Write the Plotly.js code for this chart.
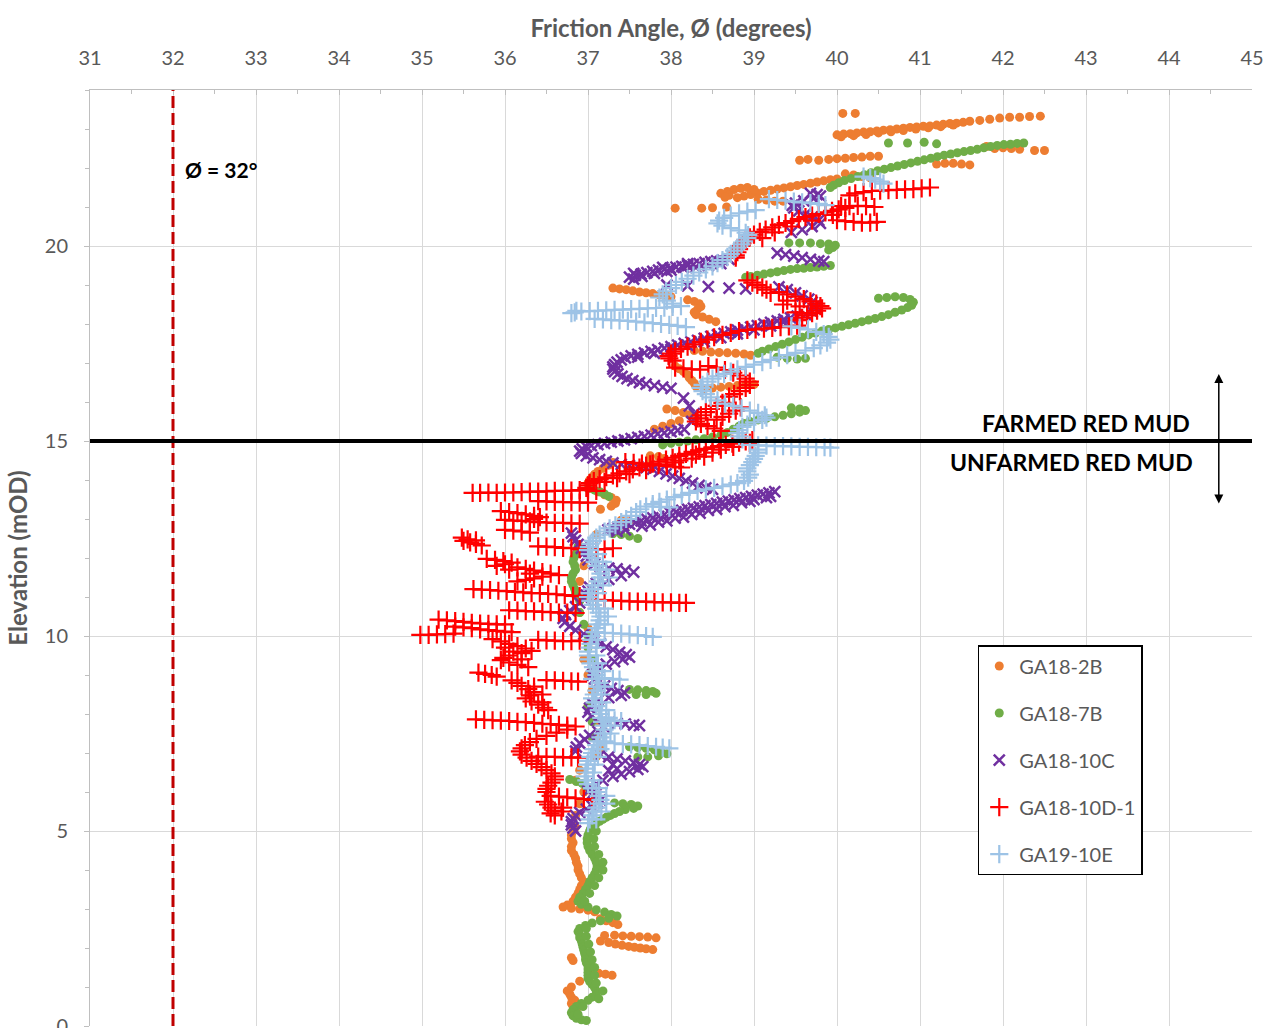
<!DOCTYPE html>
<html>
<head>
<meta charset="utf-8">
<script src="https://cdn.plot.ly/plotly-3.0.1.min.js"></script>
<style>html,body{margin:0;padding:0;background:#fff;}#chart{width:1264px;height:1028px;}</style>
</head>
<body>
<div id="chart"></div>
<script>
const seriesNames = ["GA18-2B", "GA18-7B", "GA18-10C", "GA18-10D-1", "GA19-10E"];

// Each point: [elevation (mOD), friction angle (degrees)]
const GA18_2B = [
[23.4,40.07],[23.4,40.22],
[22.85,40.0],[22.87,40.08],[22.88,40.16],[22.9,40.24],[22.92,40.32],[22.93,40.4],[22.95,40.48],[22.97,40.56],[22.98,40.64],[23.0,40.72],[23.02,40.8],[23.04,40.88],[23.05,40.96],[23.07,41.04],[23.08,41.12],[23.1,41.2],[23.12,41.28],[23.14,41.36],[23.15,41.44],[23.17,41.52],[23.2,41.6],[23.22,41.72],[23.25,41.84],[23.28,41.96],[23.3,42.08],[23.3,42.2],[23.32,42.32],[23.33,42.45],
[22.8,40.05],[22.83,40.2],[22.86,40.35],[22.9,40.5],[22.93,40.65],[22.96,40.8],[23.0,40.95],[23.03,41.1],[23.06,41.25],[23.1,41.4],
[22.45,42.38],[22.45,42.5],[22.5,41.9],[22.52,42.0],[22.5,42.1],[22.48,42.2],[22.55,41.8],
[22.2,39.55],[22.22,39.65],[22.2,39.78],[22.22,39.9],[22.24,40.0],[22.25,40.1],[22.27,40.2],[22.28,40.3],[22.3,40.4],[22.3,40.5],[22.1,41.2],[22.12,41.3],[22.12,41.4],[22.1,41.5],[22.08,41.6],
[21.85,40.1],[21.82,40.2],[21.78,40.3],[21.75,40.4],
[21.72,40.0],[21.7,39.92],[21.67,39.84],[21.64,39.76],[21.61,39.68],[21.58,39.6],[21.55,39.52],[21.52,39.44],[21.49,39.36],[21.46,39.28],[21.43,39.2],[21.4,39.12],[21.36,39.04],[21.32,38.96],[21.28,38.88],[21.24,38.8],
[21.35,38.6],[21.4,38.68],[21.45,38.76],[21.48,38.84],[21.5,38.92],[21.45,39.0],[21.2,39.05],[21.18,39.15],[21.15,39.25],[21.15,39.35],[21.3,38.7],[21.25,38.65],
[20.97,38.05],[20.97,38.37],[20.98,38.5],[21.0,38.67],
[18.92,37.3],[18.9,37.38],[18.88,37.46],[18.85,37.54],[18.82,37.62],[18.8,37.7],[18.78,37.78],[18.75,37.86],[18.72,37.94],[18.7,38.0],
[18.62,38.2],[18.58,38.28],[18.52,38.34],[18.45,38.36],[18.38,38.32],[18.3,38.28],[18.24,38.3],[18.18,38.38],[18.12,38.46],[18.06,38.54],
[17.32,38.28],[17.3,38.38],[17.28,38.48],[17.27,38.58],[17.26,38.68],[17.25,38.78],[17.23,38.88],[17.2,38.96],
[16.92,38.05],[16.85,38.1],[16.78,38.15],[16.7,38.2],[16.62,38.22],[16.55,38.25],[16.48,38.28],[16.4,38.3],[16.33,38.4],[16.36,38.5],[16.38,38.6],[16.4,38.7],[16.42,38.8],[16.44,38.9],[16.45,39.0],
[15.82,37.95],[15.78,38.05],[15.73,38.15],[15.67,38.22],[15.6,38.3],[15.52,38.1],[15.45,38.0],[15.38,37.9],[15.3,37.8],
[14.62,37.75],[14.6,37.85],[14.55,37.92],[14.5,37.75],
[14.45,37.3],[14.38,37.25],[14.3,37.18],[14.22,37.12],[14.15,37.08],[14.08,37.05],[14.0,37.02],[13.92,37.0],[13.85,37.02],[13.78,37.05],[13.7,37.12],[13.62,37.2],[13.55,37.28],[13.48,37.34],[13.4,37.33],[13.33,37.28],[13.25,37.15],
[12.97,37.4],[12.93,37.48],[12.88,37.5],[12.82,37.45],
[12.6,37.1],[12.3,36.9],[12.1,36.85],[11.8,36.95],[11.4,36.9],[11.0,36.95],[10.6,36.9],[10.2,37.0],[9.8,37.0],[9.4,36.95],[9.0,37.0],[8.6,37.05],[8.2,37.0],[7.8,37.1],[7.4,37.1],[7.1,37.15],[6.9,37.1],[6.56,36.9],[6.3,36.85],[6.0,36.95],[5.7,36.9],[5.4,36.85],[5.1,36.85],
[5.0,36.82],[4.9,36.8],[4.8,36.8],[4.7,36.82],[4.6,36.8],[4.5,36.8],[4.4,36.83],[4.3,36.85],[4.2,36.86],[4.1,36.88],[4.0,36.88],[3.9,36.9],[3.8,36.92],[3.7,36.95],[3.6,36.92],[3.5,36.9],[3.4,36.88],[3.3,36.85],[3.2,36.82],[3.1,36.75],[3.05,36.7],[3.02,36.8],[3.0,36.9],[2.97,37.0],[2.93,37.08],[2.75,37.15],[2.7,37.22],[2.65,37.3],[2.6,37.36],
[2.32,37.2],[2.33,37.32],[2.31,37.42],[2.3,37.52],[2.29,37.62],[2.28,37.72],[2.26,37.82],
[2.18,37.15],[2.14,37.25],[2.1,37.33],[2.07,37.41],[2.04,37.49],[2.02,37.56],[2.0,37.63],[1.98,37.7],[1.96,37.78],
[1.75,36.8],[1.68,36.82],[1.38,37.05],[1.35,37.13],[1.33,37.21],[1.3,37.29],[1.15,36.9],[1.0,36.8],[0.9,36.75],[0.82,36.78],[0.74,36.8],[0.66,36.84],[0.58,36.8],[0.5,36.82],[0.42,36.86]
];

const GA18_7B = [
[22.64,40.62],[22.64,40.85],[22.66,41.05],[22.62,41.2],
[22.64,42.25],[22.63,42.17],[22.61,42.09],[22.6,42.01],[22.58,41.93],[22.55,41.85],[22.52,41.77],[22.48,41.69],[22.45,41.61],[22.42,41.53],[22.39,41.45],[22.36,41.37],[22.33,41.29],[22.29,41.21],[22.25,41.13],[22.21,41.05],[22.17,40.97],[22.13,40.89],[22.09,40.81],[22.05,40.73],[22.01,40.65],[21.97,40.57],[21.93,40.49],[21.88,40.41],[21.83,40.33],[21.78,40.25],[21.73,40.17],[21.68,40.09],[21.62,40.02],[21.56,39.96],[21.5,39.92],
[20.08,39.42],[20.08,39.55],[20.08,39.68],[20.06,39.8],[20.05,39.9],[20.02,39.98],[19.96,39.95],[19.9,39.9],
[19.5,39.92],[19.48,39.84],[19.46,39.76],[19.45,39.68],[19.43,39.6],[19.42,39.52],[19.4,39.44],[19.37,39.36],[19.34,39.28],[19.31,39.2],[19.28,39.12],[19.25,39.04],[19.22,38.96],[19.2,38.9],
[18.66,40.5],[18.68,40.6],[18.7,40.7],[18.68,40.8],[18.63,40.88],[18.56,40.92],[18.48,40.9],[18.42,40.85],[18.36,40.78],[18.3,40.7],[18.24,40.62],[18.19,40.54],[18.14,40.46],[18.1,40.38],[18.06,40.3],[18.02,40.22],[17.98,40.14],[17.94,40.06],[17.9,39.98],[17.86,39.9],[17.82,39.82],[17.77,39.74],[17.72,39.66],[17.66,39.58],[17.6,39.5],[17.54,39.42],[17.48,39.34],[17.42,39.26],[17.36,39.18],[17.3,39.1],[17.25,39.05],
[17.15,39.28],[17.12,39.4],[17.1,39.52],[17.12,39.62],
[15.85,39.45],[15.82,39.55],[15.78,39.62],[15.74,39.55],[15.7,39.45],[15.66,39.35],[15.62,39.25],[15.58,39.15],[15.54,39.05],[15.5,38.95],[15.45,38.88],[15.38,38.82],[15.3,38.75],[15.22,38.68],[15.15,38.6],[15.1,38.5],[15.06,38.4],[15.03,38.3],[15.0,38.2],[14.97,38.1],[14.94,38.0],[14.9,37.9],
[13.78,37.0],[13.74,37.08],[13.69,37.15],[13.64,37.2],[13.58,37.25],
[12.62,37.3],[12.6,37.4],[12.56,37.5],[12.5,37.6],
[12.3,36.88],[12.2,36.9],[12.1,36.86],[12.0,36.83],[11.9,36.82],[11.8,36.84],[11.7,36.85],[11.6,36.82],[11.5,36.8],[11.4,36.8],[11.3,36.82],[11.2,36.84],[11.1,36.85],[11.0,36.88],[10.9,36.9],[10.6,36.9],[10.3,36.95],[10.0,37.0],[9.7,37.0],[9.4,37.05],[9.1,37.05],
[8.63,37.5],[8.62,37.6],[8.6,37.7],[8.58,37.78],[8.53,37.82],[8.5,37.7],[8.5,37.58],
[8.2,37.0],[7.8,37.05],[7.4,37.05],
[7.16,37.5],[7.14,37.6],[7.12,37.7],[7.08,37.8],[7.03,37.88],[6.98,37.95],[6.93,37.85],[6.9,37.72],[6.9,37.6],
[6.32,36.78],[6.27,36.86],[6.22,36.93],[6.15,36.98],
[5.72,37.32],[5.7,37.42],[5.68,37.52],[5.64,37.6],[5.58,37.55],[5.55,37.45],
[5.5,37.38],[5.45,37.32],[5.4,37.27],[5.35,37.22],[5.3,37.18],[5.25,37.14],[5.2,37.1],[5.15,37.07],[5.1,37.05],[5.05,37.03],[5.0,37.02],[4.9,37.0],[4.8,36.99],[4.7,36.99],[4.6,37.0],[4.5,37.02],[4.4,37.05],[4.3,37.08],[4.2,37.1],[4.1,37.11],[4.0,37.1],[3.9,37.08],[3.8,37.05],[3.7,37.02],[3.6,37.0],[3.5,36.97],[3.4,36.94],[3.3,36.9],[3.2,36.88],[3.12,36.92],[3.05,37.0],[2.98,37.1],[2.92,37.2],[2.86,37.28],[2.82,37.35],[2.76,37.25],[2.7,37.15],[2.64,37.05],[2.58,36.97],[2.5,36.9],[2.42,36.88],[2.34,36.9],[2.26,36.9],[2.18,36.92],[2.1,36.93],[2.02,36.94],[1.94,36.95],[1.86,36.96],[1.78,36.97],[1.7,36.97],[1.62,36.98],[1.54,37.0],[1.46,37.0],[1.38,37.0],[1.3,37.0],[1.22,37.0],[1.14,37.02],[1.06,37.05],[0.98,37.08],[0.9,37.1],[0.82,37.1],[0.74,37.05],[0.66,37.0],[0.58,36.92],[0.5,36.86],[0.42,36.82],[0.34,36.8],[0.26,36.82],[0.2,36.86],[0.16,36.92],[0.14,36.98],
[5.0,37.1],[4.8,37.07],[4.6,37.08],[4.4,37.13],[4.2,37.18],[4.0,37.18],[3.8,37.13],[3.6,37.08],[3.4,37.02],[3.2,36.96],[2.5,36.98],[2.3,36.98],[2.1,37.01],[1.9,37.03],[1.7,37.05],[1.5,37.08],[1.3,37.08],[1.1,37.1],[0.9,37.18],[0.7,37.13],[0.5,36.94],[0.3,36.88]
];

const GA18_10C = [
[21.35,39.68],[21.32,39.76],[21.28,39.8],[21.22,39.72],[21.16,39.6],[21.1,39.5],[21.04,39.46],[20.98,39.48],[20.9,39.54],[20.82,39.62],[20.74,39.7],[20.66,39.78],[20.58,39.8],[20.5,39.7],[20.42,39.58],[20.35,39.45],
[19.82,39.28],[19.78,39.38],[19.74,39.48],[19.7,39.58],[19.66,39.68],[19.62,39.78],[19.6,39.84],
[19.66,38.7],[19.64,38.62],[19.62,38.55],[19.6,38.48],[19.58,38.41],[19.55,38.34],[19.53,38.27],[19.5,38.2],[19.48,38.13],[19.46,38.06],[19.43,37.99],[19.4,37.92],[19.38,37.85],[19.35,37.78],[19.32,37.71],[19.28,37.64],[19.25,37.57],[19.2,37.5],[19.15,37.55],[19.3,37.55],[19.45,37.9],[19.55,38.2],[19.35,37.95],[19.45,38.3],
[19.55,38.6],[19.5,38.45],[19.45,38.15],[19.38,38.0],[19.3,37.8],[19.22,37.65],
[19.0,37.95],[18.98,38.2],[18.96,38.45],[18.92,38.7],[18.9,38.9],
[18.95,39.3],[18.88,39.4],[18.8,39.5],[18.72,39.58],[18.64,39.66],[18.56,39.7],[18.48,39.74],[18.4,39.74],[18.32,39.7],[18.24,39.62],[18.2,39.52],
[18.16,39.44],[18.12,39.36],[18.08,39.28],[18.04,39.2],[18.0,39.12],[17.96,39.04],[17.92,38.96],[17.88,38.88],[17.84,38.8],[17.8,38.72],[17.76,38.64],[17.72,38.56],[17.68,38.48],[17.63,38.4],[17.58,38.32],[17.54,38.24],[17.5,38.16],[17.46,38.08],[17.42,38.0],[17.38,37.92],[17.34,37.84],[17.3,37.76],[17.26,37.68],[17.22,37.6],[17.18,37.52],[17.13,37.45],[17.08,37.4],[17.02,37.35],[16.96,37.32],[16.9,37.3],[16.84,37.3],[16.78,37.32],[16.72,37.36],[16.66,37.41],[16.6,37.47],[16.55,37.54],[16.5,37.62],[16.46,37.7],[16.42,37.8],[16.38,37.9],[16.35,38.0],
[18.05,39.35],[17.95,39.2],[17.85,39.0],[17.75,38.8],[17.65,38.6],[17.55,38.4],[17.45,38.2],[17.35,38.0],[17.25,37.8],[17.15,37.6],
[16.1,38.15],[15.9,38.22],[15.7,38.28],[15.5,38.25],
[15.3,38.16],[15.27,38.08],[15.24,38.0],[15.21,37.92],[15.18,37.84],[15.15,37.76],[15.12,37.68],[15.09,37.6],[15.06,37.52],[15.03,37.44],[15.0,37.36],[14.97,37.28],[14.94,37.2],[14.91,37.12],[14.88,37.04],[14.85,36.98],
[14.8,36.93],[14.74,36.9],[14.68,36.92],[14.62,36.98],[14.57,37.06],[14.52,37.14],[14.48,37.22],[14.44,37.3],[14.4,37.4],[14.37,37.5],[14.34,37.6],[14.32,37.7],
[14.28,37.78],[14.22,37.86],[14.16,37.94],[14.1,38.02],[14.04,38.1],[13.98,38.18],[13.92,38.26],[13.86,38.34],[13.8,38.42],[13.76,38.5],
[13.7,39.25],[13.67,39.18],[13.64,39.11],[13.61,39.04],[13.58,38.97],[13.55,38.9],[13.52,38.83],[13.49,38.76],[13.46,38.69],[13.43,38.62],[13.4,38.55],[13.37,38.48],[13.34,38.41],[13.31,38.34],[13.28,38.27],[13.25,38.2],[13.22,38.13],[13.18,38.06],[13.15,37.99],[13.11,37.92],[13.07,37.85],[13.03,37.78],[12.99,37.71],[12.95,37.64],[12.91,37.57],[12.87,37.5],[12.83,37.43],[12.79,37.36],[12.75,37.3],[12.72,37.24],
[13.55,39.15],[13.45,38.95],[13.35,38.75],[13.25,38.55],[13.15,38.35],[13.05,38.15],[12.95,37.95],[12.85,37.75],
[13.58,39.2],[13.5,39.0],[13.42,38.85],[13.32,38.65],[13.22,38.45],[13.12,38.25],[13.02,38.05],[12.92,37.85],[12.82,37.65],[12.72,37.45],[12.68,37.35],
[12.64,36.8],[12.55,36.82],[12.45,36.85],[12.35,36.88],[12.25,36.92],[12.15,36.96],[12.05,36.98],[11.95,37.0],[11.85,37.08],[11.77,37.15],[11.74,37.25],[11.72,37.35],[11.68,37.45],[11.64,37.55],[11.55,37.4],[11.45,37.25],[11.35,37.1],[11.25,37.02],[11.15,37.0],[11.05,36.98],[10.95,36.95],[10.85,36.9],[10.75,36.85],[10.65,36.78],[10.55,36.73],[10.45,36.7],[10.35,36.72],[10.25,36.78],[10.15,36.85],[10.05,36.95],[9.95,37.02],[9.88,37.08],[9.8,37.15],[9.72,37.22],[9.65,37.3],[9.58,37.38],[9.52,37.46],[9.46,37.5],[9.4,37.42],[9.34,37.32],[9.28,37.22],[9.2,37.12],[9.1,37.06],[9.0,37.05],[8.9,37.08],[8.8,37.12],[8.72,37.2],[8.66,37.28],[8.6,37.36],[8.54,37.44],[8.48,37.4],[8.42,37.25],[8.35,37.12],[8.25,37.06],[8.15,37.02],[8.05,37.0],[7.95,37.04],[7.85,37.1],
[7.78,37.25],[7.76,37.35],[7.74,37.45],[7.72,37.55],[7.7,37.62],
[7.65,37.2],[7.55,37.12],[7.45,37.02],[7.35,36.96],[7.25,36.9],[7.15,36.86],[7.05,36.85],
[6.95,37.15],[6.9,37.25],[6.85,37.35],[6.8,37.45],[6.75,37.55],[6.7,37.62],[6.65,37.66],[6.58,37.6],[6.52,37.5],[6.46,37.4],[6.4,37.3],[6.6,37.35],[6.7,37.3],[6.55,37.25],
[6.3,37.18],[6.2,37.1],[6.1,37.04],[6.02,37.0],[5.95,37.05],[5.88,37.1],[5.8,37.15],[5.72,37.12],[5.64,37.05],[5.56,36.98],[5.48,36.9],[5.4,36.85],[5.32,36.82],[5.24,36.8],[5.16,36.8],[5.08,36.82],[5.0,36.85]
];

const GA18_10D_1 = [
[21.5,41.12],[21.48,41.02],[21.46,40.92],[21.45,40.82],[21.44,40.72],[21.43,40.62],[21.42,40.52],[21.41,40.42],[21.38,40.32],[21.35,40.22],[21.3,40.15],
[21.02,40.05],[21.02,40.15],[21.03,40.25],[21.02,40.35],[21.0,40.45],
[20.66,40.0],[20.64,40.1],[20.62,40.2],[20.6,40.3],[20.6,40.4],[20.62,40.48],
[20.98,40.1],[20.94,40.02],[20.9,39.94],[20.86,39.86],[20.82,39.78],[20.78,39.7],[20.74,39.62],[20.69,39.54],[20.64,39.46],[20.59,39.38],[20.54,39.3],[20.48,39.22],[20.42,39.14],[20.36,39.07],[20.29,39.0],[20.22,38.95],[20.15,38.9],[20.07,38.86],[20.0,38.84],[19.92,38.82],[19.84,38.8],[19.76,38.78],[19.7,38.78],
[20.8,39.95],[20.65,39.7],[20.5,39.45],[20.35,39.25],[20.2,39.1],
[19.12,38.92],[19.06,38.98],[19.0,39.04],[18.94,39.1],[18.88,39.15],[18.8,39.2],
[18.82,39.3],[18.76,39.4],[18.7,39.5],[18.64,39.6],[18.58,39.68],[18.52,39.75],[18.46,39.8],[18.4,39.82],[18.34,39.76],[18.28,39.7],[18.22,39.64],[18.16,39.58],[18.1,39.52],[18.6,39.4],[18.45,39.55],[18.3,39.5],[18.5,39.35],
[17.96,39.52],[17.94,39.42],[17.92,39.32],[17.9,39.22],[17.88,39.12],[17.86,39.02],[17.85,38.92],
[17.82,38.82],[17.77,38.72],[17.72,38.62],[17.66,38.52],[17.6,38.44],[17.54,38.36],[17.48,38.28],[17.42,38.2],[17.36,38.12],[17.3,38.05],[17.24,38.0],[17.18,37.97],[17.12,37.98],[17.06,38.02],
[16.88,38.05],[16.86,38.15],[16.84,38.25],[16.83,38.35],
[16.92,38.45],[16.88,38.55],[16.82,38.65],[16.75,38.75],[16.68,38.83],[16.6,38.9],[16.52,38.95],[16.44,38.95],[16.36,38.9],[16.28,38.83],[16.2,38.76],[16.14,38.7],
[15.98,38.62],[15.9,38.55],[15.82,38.48],[15.74,38.42],[15.66,38.36],[15.58,38.32],[15.5,38.3],[15.44,38.36],[15.38,38.44],[15.32,38.52],[15.26,38.6],[15.55,38.55],[15.62,38.62],[15.7,38.7],[15.78,38.78],[15.86,38.84],
[15.02,38.98],[14.99,38.9],[14.96,38.82],[14.93,38.74],[14.9,38.66],[14.87,38.58],[14.84,38.5],[14.8,38.42],[14.76,38.34],[14.72,38.26],[14.67,38.18],[14.62,38.1],[14.57,38.02],[14.52,37.94],[14.47,37.86],[14.42,37.78],[14.37,37.7],[14.32,37.62],[14.27,37.54],[14.22,37.46],[14.17,37.38],[14.12,37.3],[14.07,37.22],[14.02,37.14],[13.97,37.07],[13.92,37.02],[13.86,37.0],[13.8,36.98],
[14.85,38.75],[14.7,38.5],[14.55,38.25],[14.45,38.05],[14.6,38.4],
[14.95,38.95],[14.78,38.6],[14.65,38.3],[14.5,38.1],[14.4,37.95],[14.25,37.7],[14.15,37.5],[14.05,37.35],[13.95,37.2],
[14.46,37.45],[14.44,37.55],[14.42,37.65],[14.4,37.75],[14.38,37.85],[14.36,37.95],[14.34,38.05],[14.32,38.12],
[13.67,35.61],[13.67,35.7],[13.68,35.8],[13.67,35.9],[13.68,36.0],[13.68,36.1],[13.69,36.2],[13.7,36.3],[13.7,36.4],[13.71,36.5],[13.72,36.6],[13.72,36.7],[13.73,36.8],[13.74,36.9],[13.75,37.0],[13.72,37.1],
[13.46,36.4],[13.45,36.5],[13.44,36.6],[13.43,36.7],[13.43,36.8],[13.42,36.9],[13.42,37.0],
[13.2,35.95],[13.18,36.05],[13.15,36.15],[13.12,36.25],[13.08,36.35],[13.05,36.42],[13.0,36.35],[12.98,36.0],[12.96,36.1],[12.95,36.2],[12.94,36.3],[12.92,36.4],[12.91,36.5],[12.9,36.6],[12.9,36.7],[12.89,36.8],[12.88,36.9],
[12.72,36.0],[12.7,36.1],[12.68,36.2],[12.65,36.3],
[12.52,35.48],[12.48,35.55],[12.44,35.5],[12.4,35.58],[12.36,35.65],[12.32,35.72],[12.45,35.65],
[12.3,36.4],[12.29,36.5],[12.28,36.6],[12.26,36.7],[12.25,36.8],[12.23,36.9],[12.22,37.0],[12.22,37.1],[12.23,37.2],[12.25,37.3],
[11.98,35.78],[11.95,35.88],[11.92,35.98],[11.88,36.08],[11.84,36.0],[11.8,35.9],[11.76,36.15],[11.72,36.25],[11.68,36.35],[11.64,36.45],[11.6,36.55],[11.56,36.65],[11.52,36.45],[11.48,36.35],[11.44,36.25],[11.4,36.15],[11.7,36.05],[11.6,36.3],
[11.2,35.62],[11.19,35.72],[11.18,35.82],[11.16,35.92],[11.15,36.02],[11.13,36.12],[11.12,36.22],[11.1,36.32],[11.1,36.42],[11.08,36.52],[11.07,36.62],[11.05,36.72],[11.03,36.82],[11.02,36.9],
[10.93,37.1],[10.92,37.2],[10.91,37.3],[10.9,37.4],[10.89,37.5],[10.88,37.6],[10.88,37.7],[10.87,37.8],[10.86,37.9],[10.86,38.0],[10.85,38.1],[10.85,38.18],
[10.66,36.05],[10.65,36.15],[10.64,36.25],[10.63,36.35],[10.62,36.45],[10.61,36.55],[10.6,36.65],[10.6,36.75],[10.59,36.85],
[10.42,35.2],[10.4,35.3],[10.38,35.4],[10.36,35.5],[10.34,35.6],[10.32,35.7],[10.31,35.8],[10.3,35.9],[10.3,36.0],[10.24,35.4],[10.22,35.5],[10.2,35.6],[10.17,35.7],[10.15,35.8],[10.13,35.9],[10.11,36.0],[10.1,36.08],
[10.03,34.98],[10.03,35.08],[10.04,35.18],[10.05,35.28],[10.06,35.38],
[9.92,35.85],[9.86,35.95],[9.8,36.05],[9.74,36.15],[9.68,36.25],[9.62,36.32],[9.56,36.2],[9.5,36.05],[9.44,35.98],[9.38,35.95],[9.32,36.05],[9.26,36.15],[9.2,36.28],[9.7,36.0],[9.6,36.1],[9.4,36.2],
[9.9,36.4],[9.89,36.5],[9.88,36.6],[9.87,36.7],[9.87,36.8],[9.88,36.9],
[9.06,35.68],[9.03,35.76],[9.0,35.84],[8.96,35.9],
[8.86,36.08],[8.8,36.15],[8.72,36.2],[8.64,36.28],[8.56,36.35],[8.48,36.3],[8.4,36.25],[8.32,36.32],[8.24,36.4],[8.16,36.47],[8.1,36.52],[8.7,36.35],[8.5,36.45],[8.3,36.45],
[8.87,36.5],[8.86,36.6],[8.85,36.7],[8.84,36.8],[8.83,36.88],
[7.86,35.65],[7.85,35.75],[7.84,35.85],[7.83,35.95],[7.82,36.05],[7.8,36.15],[7.79,36.25],[7.77,36.35],[7.75,36.45],[7.74,36.55],[7.72,36.65],[7.7,36.75],[7.68,36.85],
[7.6,36.75],[7.52,36.62],[7.44,36.5],[7.36,36.38],[7.28,36.3],[7.2,36.24],[7.12,36.2],[7.04,36.18],[6.96,36.2],[6.88,36.26],[6.8,36.32],[6.72,36.38],[6.64,36.44],[6.56,36.5],[6.48,36.56],[6.4,36.6],[6.32,36.6],[6.24,36.56],[6.16,36.52],[6.08,36.5],[6.0,36.5],
[6.91,36.4],[6.9,36.5],[6.9,36.6],[6.89,36.7],[6.89,36.8],[6.88,36.88],
[5.9,36.55],[5.88,36.65],[5.86,36.75],[5.84,36.85],[5.82,36.95],[5.8,37.05],
[5.75,36.48],[5.68,36.52],[5.6,36.56],[5.52,36.6],[5.45,36.55],[5.4,36.6],[5.6,36.7],[5.5,36.68]
];

const GA19_10E = [
[21.78,40.32],[21.74,40.4],[21.7,40.46],[21.65,40.52],[21.6,40.56],
[21.2,39.18],[21.18,39.28],[21.16,39.38],[21.14,39.48],[21.12,39.58],[21.1,39.68],[21.08,39.78],[21.05,39.86],
[20.92,39.02],[20.88,38.92],[20.84,38.82],[20.78,38.72],[20.72,38.64],[20.65,38.58],[20.58,38.56],[20.52,38.62],[20.46,38.72],[20.4,38.82],[20.34,38.9],[20.28,38.93],[20.2,38.92],[20.12,38.88],[20.04,38.85],[19.96,38.8],[19.88,38.76],[19.8,38.72],[19.72,38.68],[19.64,38.62],[19.56,38.56],[19.48,38.5],[19.4,38.42],[19.32,38.34],[19.24,38.27],[19.16,38.2],[19.08,38.13],[19.0,38.06],[18.92,38.0],[18.84,37.94],[18.76,37.9],[18.68,37.86],[18.6,37.95],[18.52,38.02],
[18.46,38.12],[18.44,38.02],[18.42,37.92],[18.41,37.82],[18.4,37.72],[18.39,37.62],[18.38,37.52],[18.37,37.42],[18.36,37.32],[18.35,37.22],[18.34,37.12],[18.33,37.02],[18.32,36.92],[18.3,36.84],[18.28,36.8],[18.34,36.86],
[18.13,37.08],[18.12,37.18],[18.1,37.28],[18.09,37.38],[18.08,37.48],[18.06,37.58],[18.04,37.68],[18.02,37.78],[18.0,37.88],[17.98,37.98],[17.95,38.08],[17.92,38.18],
[17.94,39.45],[17.9,39.55],[17.86,39.65],[17.8,39.75],[17.74,39.84],[17.67,39.9],[17.6,39.92],[17.52,39.88],[17.45,39.8],[17.38,39.72],[17.32,39.62],
[17.26,39.5],[17.2,39.4],[17.14,39.3],[17.08,39.2],[17.02,39.1],[16.96,39.0],[16.9,38.9],[16.84,38.8],[16.78,38.72],[16.72,38.64],[16.66,38.57],[16.6,38.5],[16.52,38.44],[16.44,38.38],[16.36,38.36],[16.28,38.38],[16.2,38.42],[16.12,38.48],[16.04,38.56],[15.96,38.65],[15.9,38.75],[15.84,38.85],[15.78,38.95],[15.72,39.05],[15.66,39.13],[15.6,39.15],[15.54,39.1],[15.48,39.0],[15.42,38.92],[15.36,38.86],[15.28,38.82],[15.2,38.8],[15.12,38.82],[15.04,38.86],
[14.9,38.95],[14.89,39.05],[14.88,39.15],[14.87,39.25],[14.87,39.35],[14.86,39.45],[14.85,39.55],[14.85,39.65],[14.84,39.75],[14.84,39.85],[14.83,39.92],
[14.78,39.05],[14.7,39.05],[14.62,39.02],[14.54,39.0],[14.46,38.98],[14.38,38.95],[14.3,38.92],[14.22,38.92],[14.14,38.95],[14.06,38.93],[13.98,38.88],[13.92,38.8],[13.88,38.72],[13.84,38.62],[13.8,38.52],[13.76,38.42],[13.72,38.32],[13.67,38.22],[13.62,38.13],[13.56,38.04],[13.5,37.95],[13.44,37.86],[13.38,37.78],[13.32,37.7],[13.25,37.63],[13.18,37.58],
[13.32,37.78],[13.31,37.88],[13.3,37.98],
[13.08,37.52],[13.0,37.46],[12.92,37.4],[12.84,37.33],[12.76,37.26],[12.68,37.2],[12.6,37.14],[12.52,37.1],[12.44,37.06],[12.36,37.03],[12.28,37.01],
[12.2,37.0],[12.1,37.02],[12.0,37.05],[11.9,37.08],[11.8,37.1],[11.7,37.13],[11.6,37.15],[11.5,37.15],[11.4,37.12],[11.3,37.08],[11.2,37.05],[11.1,37.02],[11.0,37.0],[10.9,37.03],[10.8,37.06],[10.7,37.1],[10.6,37.13],[10.5,37.15],[10.4,37.14],[10.3,37.12],[10.2,37.1],[10.1,37.08],
[10.08,37.2],[10.07,37.3],[10.06,37.4],[10.04,37.5],[10.02,37.6],[10.0,37.7],[9.98,37.78],
[10.0,37.05],[9.9,37.04],[9.8,37.03],[9.7,37.02],[9.6,37.0],[9.5,37.0],[9.4,37.01],[9.3,37.03],[9.2,37.06],[9.1,37.08],[9.0,37.1],[8.9,37.12],[8.8,37.14],[8.7,37.12],[8.6,37.1],[8.5,37.07],[8.4,37.05],[8.3,37.08],[8.2,37.1],[8.1,37.13],[8.0,37.15],[7.9,37.16],[7.8,37.17],[7.7,37.19],[7.6,37.2],[7.5,37.18],[7.4,37.15],[7.3,37.12],[7.2,37.1],[7.1,37.07],[7.0,37.05],[6.9,37.03],[6.8,37.0],[6.7,36.99],[6.6,36.98],[6.5,36.97],[6.4,36.96],[6.3,36.98],[6.2,37.0],[6.1,37.05],[6.0,37.1],[5.9,37.13],[5.8,37.15],[5.7,37.13],[5.6,37.1],[5.5,37.07],[5.4,37.05],[5.3,37.02],[5.2,37.0],
[12.1,37.12],[11.9,37.18],[11.7,37.22],[11.5,37.25],[11.3,37.18],[11.1,37.12],[10.9,37.12],[10.7,37.2],[10.5,37.24],[10.3,37.2],[9.9,37.12],[9.7,37.1],[9.5,37.1],[9.3,37.12],[9.1,37.17],[8.9,37.05],[8.7,37.2],[8.5,37.16],[8.3,37.17],[8.1,37.22],[7.9,37.25],[7.7,37.28],[7.5,37.27],[7.3,37.2],[7.1,37.15],[6.9,37.12],[6.7,37.08],[6.5,37.06],[6.3,37.07],[6.1,37.13],[5.9,37.22],[5.7,37.22],[5.5,37.16],[5.3,37.1],
[8.92,37.2],[8.9,37.3],[8.88,37.38],[7.86,37.22],[7.84,37.32],[7.82,37.4],
[7.26,37.22],[7.25,37.32],[7.23,37.42],[7.22,37.52],[7.2,37.62],[7.18,37.72],[7.16,37.82],[7.14,37.9],[7.12,37.98]
];

// Reference values
const phiLimit = 32;
const boundaryElev = 15;
const xTicks = [31,32,33,34,35,36,37,38,39,40,41,42,43,44,45];
const yTicks = [0,5,10,15,20];

const FONT = 'Lato, Carlito, "Open Sans", sans-serif';
const GREY = '#595959';

function mk(data, name, color, symbol, size, lw) {
  return {
    type: 'scatter', mode: 'markers', name: name, legendgroup: name,
    x: data.map(p => p[1]), y: data.map(p => p[0]),
    marker: {symbol: symbol, size: size, color: color,
             line: {color: color, width: lw}},
    hoverinfo: 'x+y+name'
  };
}

const traces = [
  mk(GA18_2B, seriesNames[0], '#ED7D31', 'circle', 9, 0),
  mk(GA18_7B, seriesNames[1], '#70AD47', 'circle', 9, 0),
  mk(GA18_10C, seriesNames[2], '#7030A0', 'x-thin', 11, 2.5),
  mk(GA18_10D_1, seriesNames[3], '#FF0000', 'cross-thin', 13, 2.2),
  mk(GA19_10E, seriesNames[4], '#9DC3E6', 'cross-thin', 13, 2.2)
];

const layout = {
  width: 1264, height: 1028,
  margin: {l: 90, r: 12, t: 90, b: 2},
  paper_bgcolor: '#ffffff', plot_bgcolor: '#ffffff',
  font: {family: FONT, color: GREY, size: 20},
  showlegend: true,
  legend: {
    x: 0.764, y: 0.407, xanchor: 'left', yanchor: 'top',
    bgcolor: '#ffffff', bordercolor: '#000000', borderwidth: 1.5,
    font: {family: FONT, size: 20, color: GREY},
    tracegroupgap: 18, itemsizing: 'trace'
  },
  xaxis: {
    side: 'top', range: [31, 45], tickvals: xTicks,
    ticktext: xTicks.map(String),
    showgrid: true, gridcolor: '#D9D9D9', gridwidth: 1,
    showline: true, linecolor: '#BFBFBF', linewidth: 1,
    ticks: 'inside', ticklen: 5, tickcolor: '#BFBFBF',
    minor: {dtick: 0.5, ticks: 'inside', ticklen: 4, tickcolor: '#BFBFBF', showgrid: false},
    zeroline: false, ticklabelstandoff: 16,
    tickfont: {family: FONT, size: 20, color: GREY},
    title: {text: 'Friction Angle, Ø (degrees)', standoff: 0,
            font: {family: FONT, size: 24, color: GREY, weight: 'bold'}}
  },
  yaxis: {
    range: [0, 24], tickvals: yTicks, ticktext: yTicks.map(String),
    showgrid: true, gridcolor: '#D9D9D9', gridwidth: 1,
    showline: true, linecolor: '#BFBFBF', linewidth: 1,
    ticks: 'outside', ticklen: 5, tickcolor: '#BFBFBF',
    minor: {dtick: 1, ticks: 'outside', ticklen: 4, tickcolor: '#BFBFBF', showgrid: false},
    zeroline: false, ticklabelstandoff: 12, ticklabeloverflow: 'allow',
    tickfont: {family: FONT, size: 20, color: GREY},
    title: {text: 'Elevation (mOD)', standoff: 10,
            font: {family: FONT, size: 24, color: GREY, weight: 'bold'}}
  },
  shapes: [
    {type: 'line', xref: 'x', yref: 'y', x0: phiLimit, x1: phiLimit, y0: 0, y1: 24,
     line: {color: '#C00000', width: 3, dash: '12px,5px'}, layer: 'above'},
    {type: 'line', xref: 'paper', yref: 'y', x0: 0, x1: 1, y0: boundaryElev, y1: boundaryElev,
     line: {color: '#000000', width: 4}, layer: 'above'}
  ],
  annotations: [
    {xref: 'x', yref: 'y', x: 32.12, y: 21.95, text: 'Ø = 32°', showarrow: false,
     xanchor: 'left', yanchor: 'middle', font: {family: FONT, size: 21, color: '#000000', weight: 'bold'}},
    {xref: 'x', yref: 'y', x: 44.28, y: 15.46, text: 'FARMED RED MUD', showarrow: false,
     xanchor: 'right', yanchor: 'middle', font: {family: FONT, size: 23, color: '#000000', weight: 'bold'}},
    {xref: 'x', yref: 'y', x: 44.31, y: 14.46, text: 'UNFARMED RED MUD', showarrow: false,
     xanchor: 'right', yanchor: 'middle', font: {family: FONT, size: 23, color: '#000000', weight: 'bold'}},
    {xref: 'x', yref: 'y', x: 44.6, y: 16.72, ax: 44.6, ay: 13.36, axref: 'x', ayref: 'y',
     text: '', showarrow: true, arrowhead: 2, arrowside: 'end+start', arrowsize: 1.2,
     arrowwidth: 1.5, arrowcolor: '#000000', standoff: 0, startstandoff: 0}
  ]
};

Plotly.newPlot('chart', traces, layout, {displayModeBar: false, staticPlot: true});
</script>
</body>
</html>
